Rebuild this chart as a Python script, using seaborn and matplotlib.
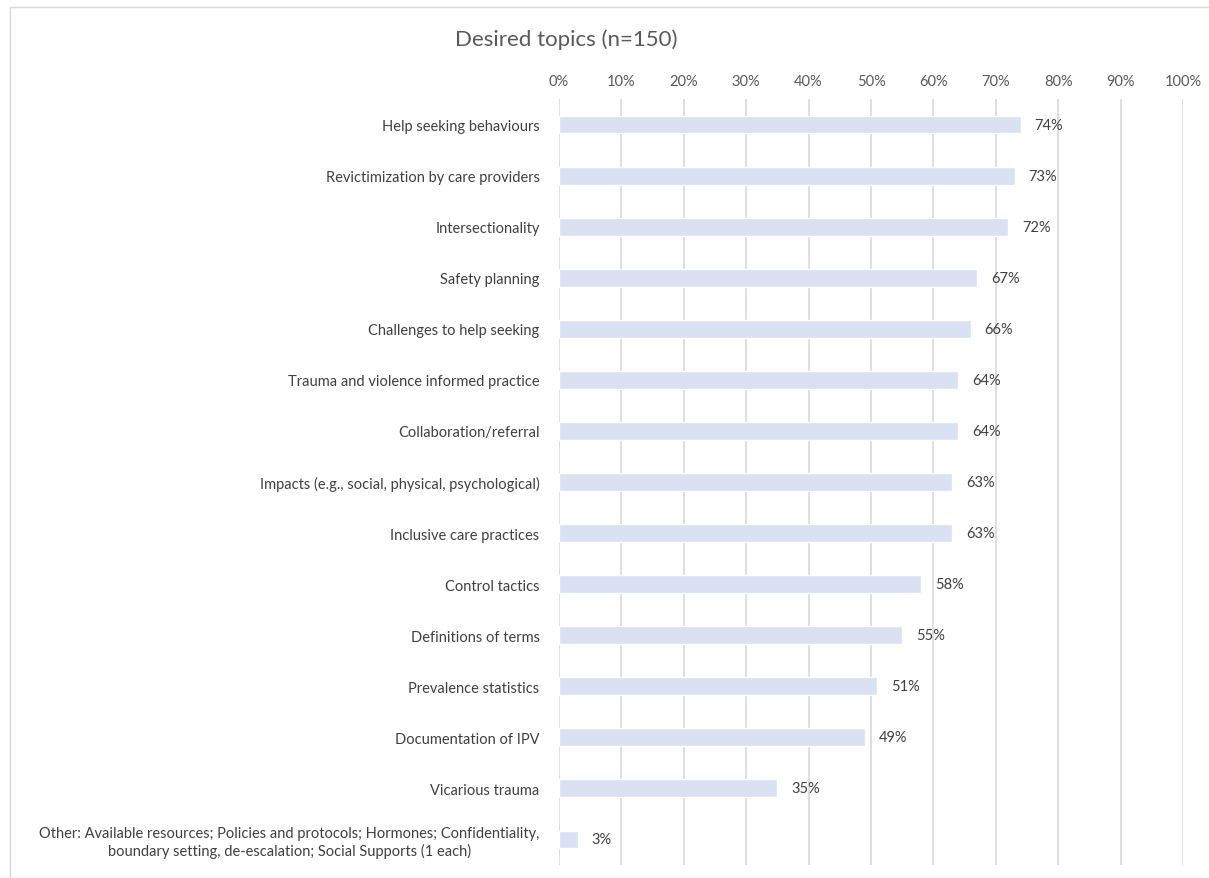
import matplotlib
matplotlib.use("Agg")
import matplotlib.pyplot as plt
import seaborn as sns
import pandas as pd
from matplotlib.ticker import PercentFormatter, MultipleLocator
from matplotlib.patches import Rectangle

topics = [
    "Help seeking behaviours",
    "Revictimization by care providers",
    "Intersectionality",
    "Safety planning",
    "Challenges to help seeking",
    "Trauma and violence informed practice",
    "Collaboration/referral",
    "Impacts (e.g., social, physical, psychological)",
    "Inclusive care practices",
    "Control tactics",
    "Definitions of terms",
    "Prevalence statistics",
    "Documentation of IPV",
    "Vicarious trauma",
    "Other: Available resources; Policies and protocols; Hormones; Confidentiality,\nboundary setting, de-escalation; Social Supports (1 each)",
]
percent = [74, 73, 72, 67, 66, 64, 64, 63, 63, 58, 55, 51, 49, 35, 3]
title = "Desired topics (n=150)"

df = pd.DataFrame({"topic": topics, "pct": percent})

sns.set_style("white")
plt.rcParams["font.family"] = ["Lato", "DejaVu Sans"]

fig = plt.figure(figsize=(12.09, 8.79), dpi=100)
ax = fig.add_axes([559 / 1209, 1 - 866 / 879, (1183 - 559) / 1209, (866 - 100) / 879])

sns.barplot(data=df, y="topic", x="pct", orient="h", color="#D9E1F3",
            saturation=1, width=0.35, ax=ax, zorder=3)

ax.set_xlim(0, 100)
ax.set_ylim(len(topics) - 0.5, -0.5)
ax.xaxis.set_major_locator(MultipleLocator(10))
ax.xaxis.set_major_formatter(PercentFormatter(decimals=0))
ax.xaxis.tick_top()
ax.grid(axis="x", color="#D9D9D9", linewidth=1.2, zorder=0)
ax.grid(axis="y", visible=False)
for s in ax.spines.values():
    s.set_visible(False)
ax.set_xlabel("")
ax.set_ylabel("")
ax.tick_params(axis="x", length=0, pad=8, labelsize=10.5, labelcolor="#595959")
ax.tick_params(axis="y", length=0, pad=14, labelsize=10.5, labelcolor="#404040")
for lbl in ax.get_yticklabels():
    lbl.set_multialignment("center")

for c in ax.containers:
    ax.bar_label(c, labels=[f"{v}%" for v in percent], padding=10,
                 fontsize=10.5, color="#404040")

fig.text(455 / 1209, 1 - 40 / 879, title, fontsize=16, color="#595959",
         ha="left", va="center")

fig.patches.append(Rectangle((10 / 1209, -0.01), 1.1, 1 - 8 / 879 + 0.01,
                             transform=fig.transFigure, fill=False,
                             edgecolor="#D9D9D9", linewidth=1))

fig.savefig("out.png", dpi=100)
